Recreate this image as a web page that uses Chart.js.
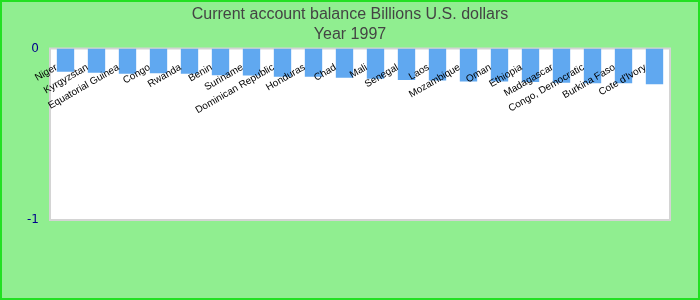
<!DOCTYPE html>
<html>
<head>
<meta charset="utf-8">
<script src="https://cdn.jsdelivr.net/npm/chart.js@4/dist/chart.umd.min.js"></script>
<style>
  html, body { margin: 0; padding: 0; background: #90ee90; }
  #wrap {
    width: 700px; height: 300px; box-sizing: border-box;
    border: 2px solid #22e022; background: #90ee90; position: relative;
  }
  #wrap canvas { display: block; }
</style>
</head>
<body>
<div id="wrap"><canvas id="chart" width="696" height="296"></canvas></div>
<script>
// Current account balance, billions of U.S. dollars, 1997
const countries = [
  'Niger', 'Kyrgyzstan', 'Equatorial Guinea', 'Congo', 'Rwanda', 'Benin',
  'Suriname', 'Dominican Republic', 'Honduras', 'Chad', 'Mali', 'Senegal',
  'Laos', 'Mozambique', 'Oman', 'Ethiopia', 'Madagascar', 'Congo, Democratic',
  'Burkina Faso', "Cote d'Ivory"
];
const balance = [
  -0.135, -0.141, -0.147, -0.145, -0.147, -0.156,
  -0.158, -0.164, -0.164, -0.170, -0.176, -0.183,
  -0.187, -0.193, -0.193, -0.195, -0.199, -0.202,
  -0.202, -0.208
];
const yTicks = [0, -1];
const titleLines = ['Current account balance Billions U.S. dollars', 'Year 1997'];

// White plot area with a light grey frame
const plotFrame = {
  id: 'plotFrame',
  beforeDraw(chart) {
    const { ctx, chartArea: a } = chart;
    ctx.save();
    ctx.fillStyle = '#ffffff';
    ctx.fillRect(a.left, a.top, a.right - a.left, a.bottom - a.top);
    ctx.strokeStyle = '#d4d4d4';
    ctx.lineWidth = 2;
    ctx.strokeRect(a.left, a.top, a.right - a.left, a.bottom - a.top);
    ctx.restore();
  }
};

new Chart(document.getElementById('chart'), {
  type: 'bar',
  data: {
    labels: countries,
    datasets: [{
      data: balance,
      backgroundColor: '#60a8f0',
      borderWidth: 0,
      barPercentage: 0.56,
      categoryPercentage: 1.0
    }]
  },
  options: {
    responsive: false,
    animation: false,
    devicePixelRatio: 1,
    layout: { padding: { left: 0, right: 0, top: 0, bottom: 78 } },
    plugins: {
      legend: { display: false },
      tooltip: { enabled: false },
      title: {
        display: true,
        text: titleLines,
        color: '#444444',
        font: { family: 'Liberation Sans, Arial, sans-serif', size: 16, weight: 'normal', lineHeight: 1.25 },
        padding: { top: 3, bottom: 3.5 }
      }
    },
    scales: {
      x: {
        position: { y: 0 },
        grid: { display: false },
        border: { display: false },
        ticks: {
          z: 1,   // category names sit on top of the bars
          autoSkip: false,
          minRotation: 30,
          maxRotation: 30,
          padding: 5,
          labelOffset: -9,
          color: '#000000',
          font: { family: 'Liberation Sans, Arial, sans-serif', size: 10 }
        }
      },
      y: {
        min: -1,
        max: 0,
        grid: { display: false },
        border: { display: false },
        afterFit(scale) { scale.width = 48; },
        afterBuildTicks(scale) { scale.ticks = yTicks.map(v => ({ value: v })); },
        ticks: {
          padding: 3,
          color: '#00008b',
          font: { family: 'DejaVu Sans, sans-serif', size: 12 }
        }
      },
      // empty right-hand margin beside the plot
      yRight: {
        position: 'right',
        min: -1,
        max: 0,
        grid: { display: false },
        border: { display: false },
        ticks: { display: false },
        afterFit(scale) { scale.width = 28; }
      }
    }
  },
  plugins: [plotFrame]
});
</script>
</body>
</html>
